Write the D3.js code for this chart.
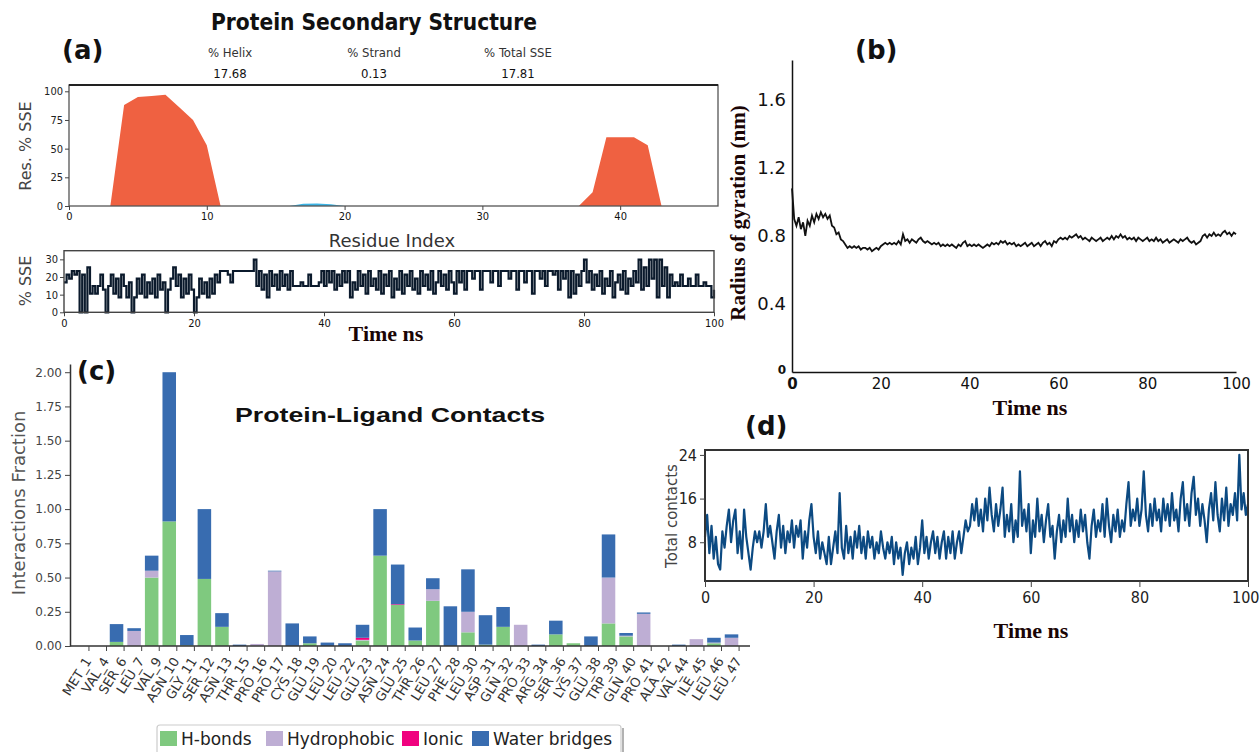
<!DOCTYPE html>
<html>
<head>
<meta charset="utf-8">
<script src="https://cdn.jsdelivr.net/npm/d3@7"></script>
<style>
  body { margin: 0; background: #fff; }
</style>
</head>
<body>
<script>
const w = 1260;
const h = 752;

// ---------- data ----------

// (a) residue secondary structure, residues 1..47
const helixPct = [0, 0, 0, 88, 95, 96, 97, 86, 75, 53,
  0, 0, 0, 0, 0, 0, 0, 0, 0, 0, 0, 0, 0, 0, 0, 0, 0, 0, 0, 0, 0, 0, 0, 0, 0, 0, 0,
  12, 60, 60, 60, 53, 0, 0, 0, 0, 0];
const strandPct = [0, 0, 0, 0, 0, 0, 0, 0, 0, 0, 0, 0, 0, 0, 0,
  0, 2, 2.2, 1.5, 0,
  0, 0, 0, 0, 0, 0, 0, 0, 0, 0, 0, 0, 0, 0, 0, 0, 0, 0, 0, 0, 0, 0, 0, 0, 0, 0, 0];
const sseNames = ["% Helix", "% Strand", "% Total SSE"];
const sseTotals = ["17.68", "0.13", "17.81"];

// (a) % SSE over time, one value every 0.4 ns
const sseStep = 0.4;
const sseTime = [
  17, 21.3, 19.1, 23.4, 21.3, 23.4, 0, 21.3, 0, 25.5, 10.6, 14.9, 10.6, 14.9, 21.3, 12.8, 0, 14.9, 21.3, 10.6, 19.1, 8.5, 21.3, 14.9, 8.5,
  17, 0, 8.5, 19.1, 10.6, 21.3, 8.5, 17, 10.6, 19.1, 8.5, 21.3, 12.8, 17, 0, 12.8, 19.1, 25.5, 14.9, 21.3, 8.5, 19.1, 10.6, 21.3, 12.8,
  0, 8.5, 19.1, 10.6, 17, 8.5, 19.1, 10.6, 21.3, 17, 23.4, 23.4, 23.4, 21.3, 17, 23.4, 23.4, 23.4, 23.4, 23.4, 23.4, 23.4, 23.4, 29.8, 14.9,
  23.4, 12.8, 21.3, 8.5, 23.4, 14.9, 21.3, 12.8, 23.4, 14.9, 21.3, 12.8, 23.4, 14.9, 14.9, 14.9, 17, 14.9, 14.9, 21.3, 14.9, 14.9, 14.9, 17, 23.4,
  14.9, 23.4, 17, 23.4, 12.8, 21.3, 14.9, 23.4, 17, 23.4, 8.5, 17, 12.8, 23.4, 14.9, 21.3, 10.6, 23.4, 14.9, 19.1, 12.8, 23.4, 10.6, 21.3, 14.9,
  23.4, 8.5, 19.1, 12.8, 23.4, 10.6, 21.3, 14.9, 23.4, 12.8, 19.1, 10.6, 23.4, 14.9, 21.3, 12.8, 23.4, 10.6, 17, 23.4, 14.9, 21.3, 12.8, 23.4, 17,
  10.6, 23.4, 17, 23.4, 12.8, 23.4, 23.4, 19.1, 23.4, 23.4, 12.8, 23.4, 23.4, 23.4, 17, 23.4, 23.4, 14.9, 23.4, 23.4, 23.4, 19.1, 23.4, 23.4, 12.8,
  23.4, 23.4, 17, 23.4, 23.4, 10.6, 23.4, 23.4, 19.1, 23.4, 14.9, 23.4, 23.4, 21.3, 23.4, 12.8, 23.4, 19.1, 23.4, 8.5, 23.4, 10.6, 21.3, 14.9, 23.4,
  29.8, 17, 23.4, 12.8, 21.3, 14.9, 23.4, 10.6, 19.1, 14.9, 23.4, 8.5, 17, 21.3, 12.8, 23.4, 10.6, 19.1, 14.9, 23.4, 17, 29.8, 12.8, 25.5, 14.9,
  29.8, 19.1, 29.8, 8.5, 29.8, 14.9, 25.5, 8.5, 21.3, 14.9, 17, 14.9, 21.3, 14.9, 14.9, 19.1, 14.9, 14.9, 21.3, 14.9, 14.9, 17, 14.9, 14.9, 8.5,
  12.8
];

// (b) radius of gyration (nm), one value every 0.5 ns
const rgStep = 0.5;
const rgValues = [
  1.08, 0.90, 0.86, 0.91, 0.84, 0.88, 0.80, 0.89, 0.86, 0.92, 0.88, 0.93, 0.90, 0.94, 0.91, 0.93, 0.90, 0.92, 0.86, 0.85,
  0.81, 0.82, 0.78, 0.77, 0.75, 0.73, 0.74, 0.73, 0.74, 0.73, 0.74, 0.72, 0.73, 0.73, 0.72, 0.73, 0.71, 0.72, 0.73, 0.72,
  0.74, 0.75, 0.76, 0.75, 0.76, 0.75, 0.76, 0.75, 0.77, 0.75, 0.81, 0.77, 0.78, 0.76, 0.78, 0.77, 0.76, 0.78, 0.79, 0.77,
  0.76, 0.77, 0.76, 0.75, 0.76, 0.75, 0.76, 0.74, 0.75, 0.74, 0.75, 0.74, 0.75, 0.74, 0.73, 0.75, 0.74, 0.76, 0.77, 0.74,
  0.75, 0.74, 0.75, 0.74, 0.75, 0.74, 0.73, 0.74, 0.75, 0.74, 0.76, 0.75, 0.76, 0.75, 0.77, 0.76, 0.77, 0.75, 0.76, 0.75,
  0.76, 0.74, 0.75, 0.74, 0.75, 0.76, 0.74, 0.75, 0.76, 0.74, 0.75, 0.76, 0.74, 0.76, 0.77, 0.75, 0.76, 0.74, 0.77, 0.76,
  0.78, 0.79, 0.78, 0.79, 0.78, 0.80, 0.79, 0.80, 0.81, 0.79, 0.80, 0.78, 0.79, 0.78, 0.77, 0.79, 0.78, 0.77, 0.78, 0.79,
  0.77, 0.78, 0.79, 0.78, 0.80, 0.78, 0.80, 0.79, 0.81, 0.79, 0.80, 0.78, 0.79, 0.78, 0.79, 0.77, 0.79, 0.78, 0.77, 0.78,
  0.79, 0.77, 0.78, 0.77, 0.79, 0.77, 0.78, 0.76, 0.77, 0.78, 0.76, 0.77, 0.78, 0.77, 0.76, 0.78, 0.77, 0.78, 0.79, 0.77,
  0.76, 0.77, 0.75, 0.76, 0.77, 0.80, 0.81, 0.79, 0.81, 0.80, 0.82, 0.80, 0.81, 0.80, 0.82, 0.83, 0.81, 0.82, 0.80, 0.82,
  0.81
];

// (c) protein-ligand contacts
const residuesC = ["MET_1", "VAL_4", "SER_6", "LEU_7", "VAL_9", "ASN_10", "GLY_11", "SER_12", "ASN_13", "THR_15",
  "PRO_16", "PRO_17", "CYS_18", "GLU_19", "LEU_20", "LEU_22", "GLU_23", "ASN_24", "GLU_25", "THR_26",
  "LEU_27", "PHE_28", "LEU_30", "ASP_31", "GLN_32", "PRO_33", "ARG_34", "SER_36", "LYS_37", "GLU_38",
  "TRP_39", "GLN_40", "PRO_41", "ALA_42", "VAL_44", "ILE_45", "LEU_46", "LEU_47"];
const hBonds = [0, 0, 0.03, 0, 0.50, 0.91, 0.005, 0.49, 0.14, 0, 0, 0, 0, 0.02, 0, 0, 0.04, 0.66, 0.30, 0.04,
  0.33, 0, 0.10, 0.01, 0.14, 0, 0, 0.085, 0.02, 0, 0.165, 0.07, 0, 0, 0, 0, 0.02, 0];
const hydrophobic = [0, 0, 0, 0.11, 0.05, 0, 0, 0, 0, 0, 0.015, 0.545, 0, 0, 0, 0, 0.005, 0, 0, 0,
  0.085, 0, 0.15, 0, 0, 0.155, 0, 0, 0, 0, 0.335, 0.005, 0.235, 0, 0, 0.05, 0.005, 0.06];
const ionic = [0, 0, 0, 0, 0, 0, 0, 0, 0, 0, 0, 0, 0, 0, 0, 0, 0.015, 0, 0.005, 0,
  0, 0, 0, 0, 0, 0, 0, 0, 0, 0, 0, 0, 0, 0, 0, 0, 0, 0];
const waterBridges = [0, 0, 0.13, 0.02, 0.11, 1.09, 0.075, 0.51, 0.10, 0.01, 0, 0.005, 0.165, 0.05, 0.025, 0.02, 0.095, 0.34, 0.29, 0.095,
  0.08, 0.29, 0.31, 0.215, 0.145, 0, 0.01, 0.10, 0, 0.07, 0.315, 0.02, 0.01, 0, 0.01, 0, 0.035, 0.025];
const contactTypes = ["H-bonds", "Hydrophobic", "Ionic", "Water bridges"];
const contactColors = ["#7fc97f", "#beaed4", "#f0027f", "#386cb0"];

// (d) total contacts, one value every 0.4 ns
const tcStep = 0.4;
const totalContacts = [
  9, 13, 6, 11, 5, 9, 4, 3, 10, 7, 11, 14, 8, 12, 14, 6, 10, 5, 14, 9, 6, 3, 7, 10, 8,
  10, 7, 10, 15, 9, 11, 8, 5, 10, 13, 7, 11, 6, 10, 8, 12, 7, 11, 9, 12, 5, 10, 7, 12, 15,
  9, 6, 10, 5, 8, 6, 4, 9, 4, 7, 10, 6, 17, 7, 5, 11, 6, 9, 5, 10, 7, 11, 6, 9, 5,
  10, 7, 9, 5, 8, 6, 10, 7, 5, 8, 6, 9, 4, 8, 5, 7, 2, 6, 8, 4, 7, 5, 9, 4, 7,
  12, 6, 9, 5, 8, 10, 6, 9, 5, 8, 10, 5, 9, 6, 10, 5, 8, 10, 6, 9, 12, 10, 11, 15, 12,
  16, 11, 14, 10, 16, 12, 18, 13, 10, 15, 11, 14, 18, 9, 13, 10, 15, 8, 12, 9, 21, 11, 14, 10, 15,
  6, 12, 9, 16, 10, 13, 8, 12, 15, 9, 11, 5, 10, 13, 8, 12, 9, 16, 10, 13, 8, 12, 9, 14, 10,
  13, 8, 5, 11, 14, 9, 12, 10, 15, 9, 16, 11, 8, 13, 10, 14, 9, 12, 10, 15, 19, 11, 14, 12, 16,
  11, 14, 21, 13, 10, 15, 11, 16, 12, 14, 10, 16, 12, 15, 11, 17, 12, 14, 10, 16, 19, 12, 15, 11, 17,
  20, 13, 16, 11, 15, 12, 8, 14, 17, 12, 19, 13, 10, 16, 12, 18, 11, 15, 13, 17, 12, 24, 14, 17, 13,
  15
];

// ---------- drawing ----------

let svg = d3.select("body")
    .append("svg")
    .attr("width", w)
    .attr("height", h)
    .style("background", "#fff");

const sans = "'DejaVu Sans', Verdana, sans-serif";
const narrow = "'Liberation Sans Narrow', 'DejaVu Sans Condensed', Arial, sans-serif";
const serif = "'Liberation Serif', 'Times New Roman', serif";

function styleAxis(g, size, family, fill) {
    g.attr("font-family", family).attr("font-size", size);
    g.selectAll(".tick text").attr("fill", fill);
    g.selectAll(".tick line").attr("stroke", "#444");
}

function panelTag(txt, x, y) {
    svg.append("text")
        .attr("x", x).attr("y", y)
        .attr("font-family", sans)
        .attr("font-weight", "bold")
        .attr("font-size", 26)
        .attr("fill", "#111")
        .text(txt);
}

function timeLabel(x, y) {
    svg.append("text")
        .attr("x", x).attr("y", y)
        .attr("text-anchor", "middle")
        .attr("font-family", serif)
        .attr("font-weight", "bold")
        .attr("font-size", 22)
        .attr("fill", "#1a0505")
        .text("Time ns");
}

// ===== panel (a), top: Res. % SSE =====
svg.append("text")
    .attr("x", 374).attr("y", 30)
    .attr("text-anchor", "middle")
    .attr("font-family", narrow)
    .attr("font-weight", "bold")
    .attr("font-size", 23)
    .attr("textLength", 326)
    .attr("lengthAdjust", "spacingAndGlyphs")
    .attr("fill", "#111")
    .text("Protein Secondary Structure");

const statX = d3.scalePoint().domain(sseNames).range([230, 518]);
svg.selectAll(".sseName")
    .data(sseNames)
    .enter()
    .append("text")
    .attr("x", d => statX(d)).attr("y", 57)
    .attr("text-anchor", "middle")
    .attr("font-family", narrow).attr("font-size", 13).attr("fill", "#333")
    .text(d => d);
svg.selectAll(".sseVal")
    .data(sseTotals)
    .enter()
    .append("text")
    .attr("x", (d, i) => statX(sseNames[i])).attr("y", 78)
    .attr("text-anchor", "middle")
    .attr("font-family", narrow).attr("font-size", 13).attr("fill", "#111")
    .text(d => d);

const xa = d3.scaleLinear().domain([0, 47.1]).range([69, 718]);
const ya = d3.scaleLinear().domain([0, 105.5]).range([206, 85]);

const resArea = d3.area()
    .x((d, i) => xa(i + 1))
    .y0(ya(0))
    .y1(d => ya(d));

svg.append("path").datum(helixPct).attr("d", resArea).attr("fill", "#ef6141");
svg.append("path").datum(strandPct).attr("d", resArea).attr("fill", "#3cb4e5");

svg.append("rect")
    .attr("x", xa(0)).attr("y", ya(105.5))
    .attr("width", xa(47.1) - xa(0)).attr("height", ya(0) - ya(105.5))
    .attr("fill", "none").attr("stroke", "#555").attr("stroke-width", 1.3);
svg.append("line")
    .attr("x1", xa(0)).attr("x2", xa(47.1))
    .attr("y1", ya(105.5)).attr("y2", ya(105.5))
    .attr("stroke", "#222").attr("stroke-width", 1.8);

let gax = svg.append("g")
    .attr("transform", "translate(0," + ya(0) + ")")
    .call(d3.axisBottom(xa).tickValues([0, 10, 20, 30, 40]).tickSize(4).tickPadding(2));
gax.select(".domain").remove();
styleAxis(gax, 11, narrow, "#111");

let gay = svg.append("g")
    .attr("transform", "translate(" + xa(0) + ",0)")
    .call(d3.axisLeft(ya).tickValues([0, 25, 50, 75, 100]).tickSize(4).tickPadding(2));
gay.select(".domain").remove();
styleAxis(gay, 11, narrow, "#222");

svg.append("text")
    .attr("transform", "translate(31,146) rotate(-90)")
    .attr("text-anchor", "middle")
    .attr("font-family", sans).attr("font-size", 16).attr("fill", "#444")
    .text("Res. % SSE");

svg.append("text")
    .attr("x", 392).attr("y", 247)
    .attr("text-anchor", "middle")
    .attr("font-family", sans).attr("font-size", 18).attr("fill", "#333")
    .text("Residue Index");

panelTag("(a)", 62, 59);

// ===== panel (a), bottom: % SSE vs time =====
const xs = d3.scaleLinear().domain([0, 100]).range([64, 714]);
const ys = d3.scaleLinear().domain([0, 34.9]).range([312.3, 250.7]);

svg.append("path")
    .datum(sseTime)
    .attr("d", d3.line().curve(d3.curveStepAfter).x((d, i) => xs(i * sseStep)).y(d => ys(d)))
    .attr("fill", "none")
    .attr("stroke", "#0b1a2c")
    .attr("stroke-width", 2.2);

svg.append("rect")
    .attr("x", xs(0)).attr("y", ys(34.9))
    .attr("width", xs(100) - xs(0)).attr("height", ys(0) - ys(34.9))
    .attr("fill", "none").attr("stroke", "#444").attr("stroke-width", 1.4);

let gsx = svg.append("g")
    .attr("transform", "translate(0," + ys(0) + ")")
    .call(d3.axisBottom(xs).tickValues([0, 20, 40, 60, 80, 100]).tickSize(4).tickPadding(3));
gsx.select(".domain").remove();
styleAxis(gsx, 11, narrow, "#111");

let gsy = svg.append("g")
    .attr("transform", "translate(" + xs(0) + ",0)")
    .call(d3.axisLeft(ys).tickValues([0, 10, 20, 30]).tickSize(4).tickPadding(2));
gsy.select(".domain").remove();
styleAxis(gsy, 11, narrow, "#222");

svg.append("text")
    .attr("transform", "translate(31,281) rotate(-90)")
    .attr("text-anchor", "middle")
    .attr("font-family", sans).attr("font-size", 16).attr("fill", "#444")
    .text("% SSE");

timeLabel(386, 341);

// ===== panel (b): radius of gyration =====
const xb = d3.scaleLinear().domain([0, 100]).range([792, 1236]);
const yb = d3.scaleLinear().domain([0, 1.835]).range([372, 60]);

svg.append("path")
    .datum(rgValues)
    .attr("d", d3.line().x((d, i) => xb(i * rgStep)).y(d => yb(d)))
    .attr("fill", "none")
    .attr("stroke", "#111")
    .attr("stroke-width", 1.8);

let gbx = svg.append("g")
    .attr("transform", "translate(0," + yb(0) + ")")
    .call(d3.axisBottom(xb).tickValues([0, 20, 40, 60, 80, 100]).tickSize(0).tickSizeOuter(0).tickPadding(6));
gbx.select(".domain").attr("stroke", "#111").attr("stroke-width", 1.5);
styleAxis(gbx, 15, sans, "#111");
gbx.selectAll(".tick text").filter(d => d === 0).attr("font-weight", "bold");

let gby = svg.append("g")
    .attr("transform", "translate(" + xb(0) + ",0)")
    .call(d3.axisLeft(yb).tickValues([0, 0.4, 0.8, 1.2, 1.6]).tickSize(0).tickSizeOuter(0).tickPadding(6)
        .tickFormat(d => d === 0 ? "0" : d.toFixed(1)));
gby.select(".domain").attr("stroke", "#111").attr("stroke-width", 1.5);
styleAxis(gby, 18, sans, "#111");
gby.selectAll(".tick text").filter(d => d === 0)
    .attr("font-weight", "bold").attr("font-size", 12).attr("dy", "0.1em");

svg.append("text")
    .attr("transform", "translate(745,213) rotate(-90)")
    .attr("text-anchor", "middle")
    .attr("font-family", serif).attr("font-weight", "bold").attr("font-size", 21)
    .attr("fill", "#1a0505")
    .text("Radius of gyration (nm)");

timeLabel(1030, 415);
panelTag("(b)", 855, 59);

// ===== panel (c): protein-ligand contacts =====
const xc = d3.scaleBand()
    .domain(residuesC)
    .range([72.6, 740.3])
    .paddingInner(0.23)
    .paddingOuter(0.115);
const yc = d3.scaleLinear().domain([0, 2.06]).range([646, 364]);

const contactRows = residuesC.map((r, i) => ({
    res: r,
    "H-bonds": hBonds[i],
    "Hydrophobic": hydrophobic[i],
    "Ionic": ionic[i],
    "Water bridges": waterBridges[i]
}));
const stacked = d3.stack().keys(contactTypes)(contactRows);

svg.append("g")
    .selectAll("g")
    .data(stacked)
    .enter()
    .append("g")
    .attr("fill", (d, i) => contactColors[i])
    .selectAll("rect")
    .data(d => d)
    .enter()
    .append("rect")
    .attr("x", d => xc(d.data.res))
    .attr("width", xc.bandwidth())
    .attr("y", d => yc(d[1]))
    .attr("height", d => yc(d[0]) - yc(d[1]));

let gcy = svg.append("g")
    .attr("transform", "translate(70,0)")
    .call(d3.axisLeft(yc).tickValues([0, 0.25, 0.5, 0.75, 1, 1.25, 1.5, 1.75, 2])
        .tickFormat(d3.format(".2f")).tickSize(5).tickSizeOuter(0).tickPadding(3));
gcy.select(".domain").attr("stroke", "#333").attr("stroke-width", 1.5);
styleAxis(gcy, 12, sans, "#444");

svg.append("line")
    .attr("x1", 70).attr("x2", 750)
    .attr("y1", yc(0)).attr("y2", yc(0))
    .attr("stroke", "#333").attr("stroke-width", 1.5);

// ticks sit at the right edge of each bar
let gcx = svg.append("g")
    .attr("transform", "translate(" + (xc.bandwidth() / 2 + 0.8) + "," + yc(0) + ")")
    .call(d3.axisBottom(xc).tickSize(5).tickSizeOuter(0));
gcx.select(".domain").remove();
styleAxis(gcx, 13, sans, "#333");
gcx.selectAll(".tick text")
    .attr("x", 0).attr("y", 0).attr("dy", 0)
    .attr("text-anchor", "end")
    .attr("transform", "translate(3,15) rotate(-58)");

svg.append("text")
    .attr("transform", "translate(25,503) rotate(-90)")
    .attr("text-anchor", "middle")
    .attr("font-family", sans).attr("font-size", 18).attr("fill", "#555")
    .text("Interactions Fraction");

svg.append("text")
    .attr("x", 390).attr("y", 422)
    .attr("text-anchor", "middle")
    .attr("font-family", "'Liberation Sans', Arial, sans-serif")
    .attr("font-weight", "bold")
    .attr("font-size", 21)
    .attr("textLength", 310)
    .attr("lengthAdjust", "spacingAndGlyphs")
    .attr("fill", "#111")
    .text("Protein-Ligand Contacts");

panelTag("(c)", 77, 380);

// legend
const legend = svg.append("g");
legend.append("rect")
    .attr("x", 157).attr("y", 725).attr("width", 464).attr("height", 40)
    .attr("rx", 3)
    .attr("fill", "#fff").attr("stroke", "#ccc").attr("stroke-width", 1.2);
legend.append("line")
    .attr("x1", 623).attr("x2", 623).attr("y1", 728).attr("y2", 752)
    .attr("stroke", "#999").attr("stroke-width", 1.5);
const legendX = [160, 266, 402, 472];
const legendItem = legend.selectAll(".item")
    .data(contactTypes)
    .enter()
    .append("g")
    .attr("transform", (d, i) => "translate(" + legendX[i] + ",0)");
legendItem.append("rect")
    .attr("x", 0).attr("y", 731).attr("width", 17).attr("height", 15)
    .attr("fill", (d, i) => contactColors[i]);
legendItem.append("text")
    .attr("x", 21).attr("y", 745)
    .attr("font-family", sans).attr("font-size", 17).attr("fill", "#222")
    .text(d => d);

// ===== panel (d): total contacts =====
const xd = d3.scaleLinear().domain([0, 100]).range([705, 1248]);
const yd = d3.scaleLinear().domain([0.9, 24.9]).range([581, 450]);

svg.append("path")
    .datum(totalContacts)
    .attr("d", d3.line().x((d, i) => xd(i * tcStep)).y(d => yd(d)))
    .attr("fill", "none")
    .attr("stroke", "#0c4a82")
    .attr("stroke-width", 2.2)
    .attr("stroke-linejoin", "round");

svg.append("rect")
    .attr("x", xd(0)).attr("y", yd(24.9))
    .attr("width", xd(100) - xd(0)).attr("height", yd(0.9) - yd(24.9))
    .attr("fill", "none").attr("stroke", "#333").attr("stroke-width", 2);

let gdx = svg.append("g")
    .attr("transform", "translate(0," + yd(0.9) + ")")
    .call(d3.axisBottom(xd).tickValues([0, 20, 40, 60, 80, 100]).tickSize(6).tickPadding(5));
gdx.select(".domain").remove();
styleAxis(gdx, 16, narrow, "#222");
// keep the last label inside the page
gdx.selectAll(".tick text").filter(d => d === 100)
    .attr("text-anchor", "end").attr("x", 11);

let gdy = svg.append("g")
    .attr("transform", "translate(" + xd(0) + ",0)")
    .call(d3.axisLeft(yd).tickValues([8, 16, 24]).tickSize(5).tickPadding(3));
gdy.select(".domain").remove();
styleAxis(gdy, 16, narrow, "#222");

svg.append("text")
    .attr("transform", "translate(677,516) rotate(-90)")
    .attr("text-anchor", "middle")
    .attr("font-family", sans).attr("font-size", 15).attr("fill", "#444")
    .text("Total contacts");

timeLabel(1031, 638);
panelTag("(d)", 745, 435);
</script>
</body>
</html>
